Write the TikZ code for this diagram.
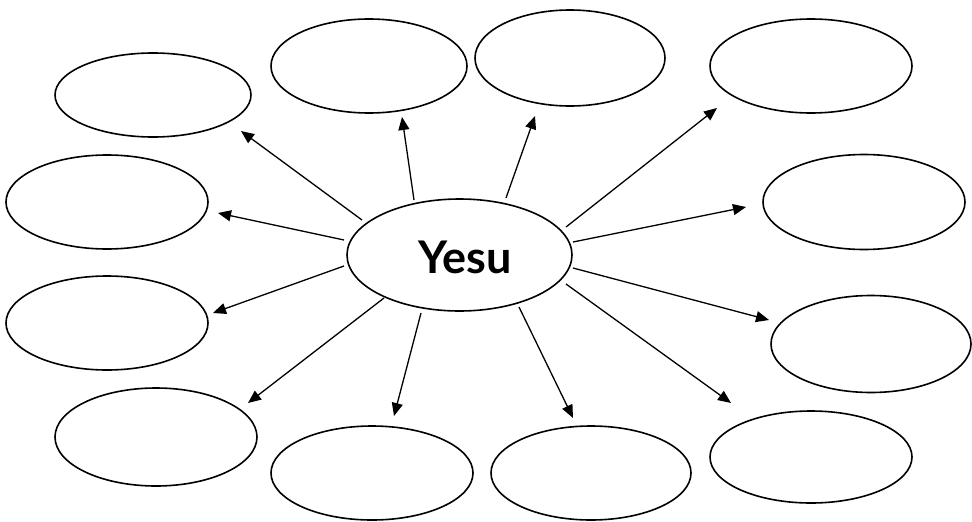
\documentclass[tikz,border=0pt]{standalone}
\usepackage{fontspec}
\setmainfont{Lato}
\usetikzlibrary{shapes.geometric,arrows.meta}
\begin{document}
\begin{tikzpicture}[x=1pt,y=-1pt,
  bubble/.style={draw,ellipse,line width=1.6pt,inner sep=0pt},
  arr/.style={line width=1.3pt,-{Triangle[length=13pt,width=11pt]}}]
\useasboundingbox (0,0) rectangle (972,522);
\node[bubble,minimum width=225pt,minimum height=112pt] (c) at (459.5,255) {};
\node[inner sep=0pt,font=\bfseries\fontsize{45}{52}\selectfont] (ct) at (465,257) {Yesu};
\node[bubble,minimum width=196pt,minimum height=84pt] (e1) at (153,95) {};
\node[bubble,minimum width=196pt,minimum height=94pt] (e2) at (369,66) {};
\node[bubble,minimum width=190pt,minimum height=96pt] (e3) at (570,58) {};
\node[bubble,minimum width=202pt,minimum height=94pt] (e4) at (811,66) {};
\node[bubble,minimum width=202pt,minimum height=95pt] (e5) at (864,202) {};
\node[bubble,minimum width=200pt,minimum height=97pt] (e6) at (871,344) {};
\node[bubble,minimum width=202pt,minimum height=92pt] (e7) at (811,457) {};
\node[bubble,minimum width=200pt,minimum height=94pt] (e8) at (591,473) {};
\node[bubble,minimum width=202pt,minimum height=94pt] (e9) at (372,473) {};
\node[bubble,minimum width=202pt,minimum height=98pt] (e10) at (156,437) {};
\node[bubble,minimum width=202pt,minimum height=94pt] (e11) at (107,323) {};
\node[bubble,minimum width=202pt,minimum height=94pt] (e12) at (107,202) {};
% arrow endpoints
\coordinate (s1) at (362,220); \coordinate (t1) at (241,131);
\coordinate (s2) at (414,200); \coordinate (t2) at (402,117);
\coordinate (s3) at (506,198); \coordinate (t3) at (535,116);
\coordinate (s4) at (566,227); \coordinate (t4) at (717,108);
\coordinate (s5) at (573,242); \coordinate (t5) at (746,207);
\coordinate (s6) at (573,268); \coordinate (t6) at (769,320);
\coordinate (s7) at (566,284); \coordinate (t7) at (731,403);
\coordinate (s8) at (519,307); \coordinate (t8) at (573,418);
\coordinate (s9) at (421,313); \coordinate (t9) at (394,416);
\coordinate (s10) at (384,298); \coordinate (t10) at (248,403);
\coordinate (s11) at (344,266); \coordinate (t11) at (213,313);
\coordinate (s12) at (344,240); \coordinate (t12) at (218,213);
\foreach \i in {1,...,12} {\draw[arr] (s\i) -- (t\i);}
\end{tikzpicture}
\end{document}
